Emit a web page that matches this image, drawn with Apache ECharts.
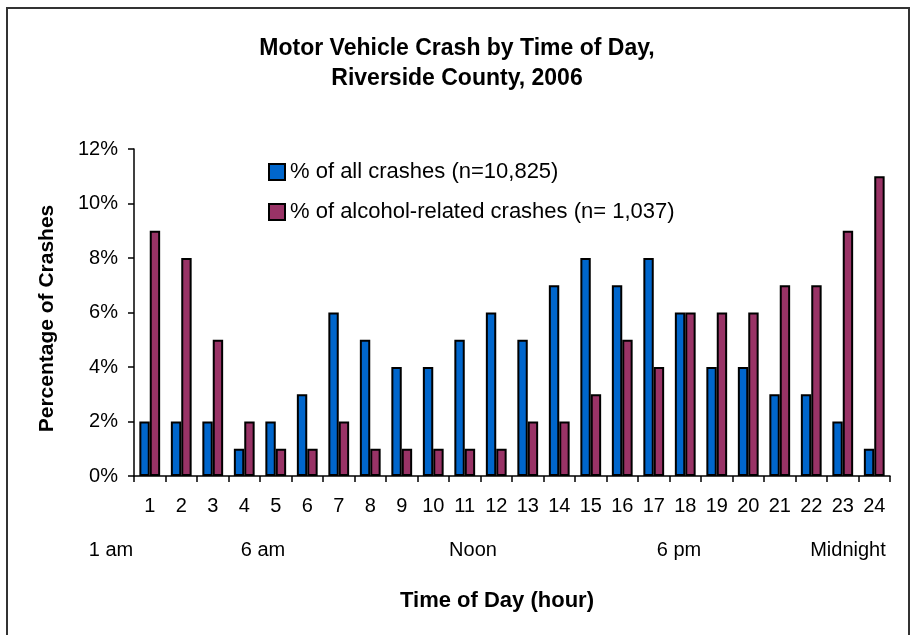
<!DOCTYPE html>
<html>
<head>
<meta charset="utf-8">
<script src="https://cdn.jsdelivr.net/npm/echarts@6/dist/echarts.min.js"></script>
<style>
html,body{margin:0;padding:0;background:#fff;}
#chart{width:913px;height:635px;}
</style>
</head>
<body>
<div id="chart"></div>
<script>
const hours = ['1','2','3','4','5','6','7','8','9','10','11','12','13','14','15','16','17','18','19','20','21','22','23','24'];
const allCrashes = [2,2,2,1,2,3,6,5,4,4,5,6,5,7,8,7,8,6,4,4,3,3,2,1];
const alcoholCrashes = [9,8,5,2,1,1,2,1,1,1,1,1,2,2,3,5,4,6,6,6,7,7,9,11];
const timeLabels = [
  {text:'1 am', x:111},
  {text:'6 am', x:263},
  {text:'Noon', x:473},
  {text:'6 pm', x:679},
  {text:'Midnight', x:848}
];
const seriesNames = ['% of all crashes (n=10,825)', '% of alcohol-related crashes (n= 1,037)'];

const FONT = '"Liberation Sans", Arial, sans-serif';
const chart = echarts.init(document.getElementById('chart'), null, {renderer:'canvas'});

const graphics = [
  {type:'rect', shape:{x:7, y:8, width:902, height:640}, style:{fill:'none', stroke:'#333', lineWidth:2}, silent:true, z:-1}
];
timeLabels.forEach(t => {
  graphics.push({type:'text', x:t.x, y:550, style:{text:t.text, font:'20px ' + FONT, fill:'#000', textAlign:'center', textVerticalAlign:'middle'}});
});

chart.setOption({
  animation:false,
  backgroundColor:'#fff',
  title:{
    text:'Motor Vehicle Crash by Time of Day,\nRiverside County, 2006',
    left:452, top:29, textAlign:'center',
    textStyle:{fontFamily:FONT, fontSize:23, fontWeight:'bold', color:'#000', lineHeight:30}
  },
  legend:{
    orient:'vertical', left:263, top:156,
    itemWidth:16, itemHeight:16, itemGap:18,
    icon:'rect',
    textStyle:{fontFamily:FONT, fontSize:22, color:'#000'},
    data:seriesNames
  },
  grid:{left:134, right:23, top:149, bottom:159, containLabel:false},
  xAxis:{
    type:'category', data:hours,
    name:'Time of Day (hour)', nameLocation:'middle', nameGap:114,
    nameTextStyle:{fontFamily:FONT, fontSize:22, fontWeight:'bold', color:'#000', padding:[0,30,0,0]},
    axisLine:{lineStyle:{color:'#000', width:1.5}},
    axisTick:{show:true, inside:false, length:6, lineStyle:{color:'#000', width:1.5}},
    axisLabel:{fontFamily:FONT, fontSize:20, color:'#000', margin:20, interval:0}
  },
  yAxis:{
    type:'value', min:0, max:12, interval:2,
    name:'Percentage of Crashes', nameLocation:'middle', nameGap:76, nameRotate:90,
    nameTextStyle:{fontFamily:FONT, fontSize:21, fontWeight:'bold', color:'#000', padding:[0,12,0,0]},
    axisLine:{show:true, lineStyle:{color:'#000', width:1.5}},
    axisTick:{show:true, length:6, lineStyle:{color:'#000', width:1.5}},
    splitLine:{show:false},
    axisLabel:{fontFamily:FONT, fontSize:20, color:'#000', margin:16, formatter:v => v + '%'}
  },
  series:[
    {name:seriesNames[0], type:'bar', data:allCrashes, barGap:'0%', barCategoryGap:'34%',
     itemStyle:{color:'#0066CC', borderColor:'#000', borderWidth:2}},
    {name:seriesNames[1], type:'bar', data:alcoholCrashes,
     itemStyle:{color:'#993366', borderColor:'#000', borderWidth:2}}
  ],
  graphic:graphics
});
</script>
</body>
</html>
